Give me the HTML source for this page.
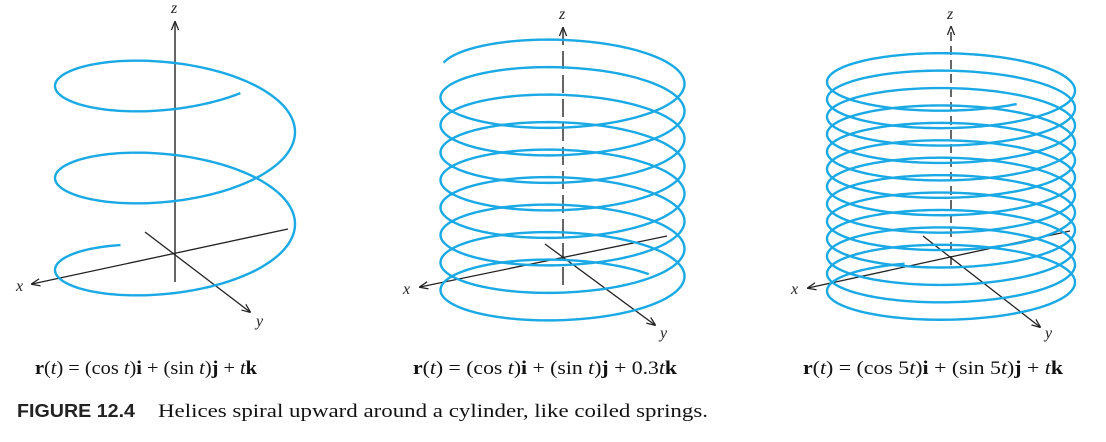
<!DOCTYPE html>
<html><head><meta charset="utf-8"><style>
html,body{margin:0;padding:0;background:#fff}
svg{display:block}
.ax{stroke:#222;stroke-width:1.3;fill:none}
.zax{stroke:#555;stroke-width:1.8;fill:none}
.lbl{font-family:"Liberation Serif",serif;font-style:italic;font-size:16px;fill:#222}
.cap{font-family:"Liberation Serif",serif;font-size:19px;fill:#111}
</style></head><body>
<svg id="fig" width="1106" height="442" viewBox="0 0 1106 442">
<defs>
<marker id="ar" viewBox="0 0 10 10" refX="9" refY="5" markerWidth="9" markerHeight="9" orient="auto-start-reverse" markerUnits="userSpaceOnUse">
<path d="M0,1 L10,5 L0,9" fill="none" stroke="#222" stroke-width="1.4"/></marker>
</defs>
<g id="axes"></g>
<g id="helices"></g>
<g>
<text class="cap" x="35" y="374" textLength="222" lengthAdjust="spacingAndGlyphs"><tspan font-weight="bold">r</tspan>(<tspan font-style="italic">t</tspan>) = (cos <tspan font-style="italic">t</tspan>)<tspan font-weight="bold">i</tspan> + (sin <tspan font-style="italic">t</tspan>)<tspan font-weight="bold">j</tspan> + <tspan font-style="italic">t</tspan><tspan font-weight="bold">k</tspan></text>
<text class="cap" x="413" y="374" textLength="264" lengthAdjust="spacingAndGlyphs"><tspan font-weight="bold">r</tspan>(<tspan font-style="italic">t</tspan>) = (cos <tspan font-style="italic">t</tspan>)<tspan font-weight="bold">i</tspan> + (sin <tspan font-style="italic">t</tspan>)<tspan font-weight="bold">j</tspan> + 0.3<tspan font-style="italic">t</tspan><tspan font-weight="bold">k</tspan></text>
<text class="cap" x="803" y="374" textLength="260" lengthAdjust="spacingAndGlyphs"><tspan font-weight="bold">r</tspan>(<tspan font-style="italic">t</tspan>) = (cos 5<tspan font-style="italic">t</tspan>)<tspan font-weight="bold">i</tspan> + (sin 5<tspan font-style="italic">t</tspan>)<tspan font-weight="bold">j</tspan> + <tspan font-style="italic">t</tspan><tspan font-weight="bold">k</tspan></text>
<text x="17" y="417" textLength="118" lengthAdjust="spacingAndGlyphs" style="font-family:'Liberation Sans',sans-serif;font-weight:bold;font-size:18px;fill:#222">FIGURE 12.4</text>
<text class="cap" x="158" y="417" textLength="550" lengthAdjust="spacingAndGlyphs">Helices spiral upward around a cylinder, like coiled springs.</text>
</g>
</svg>
<script>
// helix parameters (angles in degrees; left extreme of lowest loop at yBase)
const helixNames = ['helix-1','helix-2','helix-3'];
const centersX = [175, 562.5, 951];
const radiiX = [120, 122, 124];
const radiiY = [46, 37, 33];
const baseY = [270, 290, 291];
const pitch = [92, 27.5, 17.42];
const thetaStart = [117, 45, 112];
const thetaEnd = [1023, 3047, 4622];

const NS='http://www.w3.org/2000/svg';
const hg=document.getElementById('helices');
for(let h=0;h<3;h++){
  let d='';
  for(let th=thetaStart[h];th<=thetaEnd[h];th+=2){
    const r=th*Math.PI/180;
    const x=centersX[h]+radiiX[h]*Math.cos(r);
    const y=baseY[h]-pitch[h]*(th-180)/360-radiiY[h]*Math.sin(r);
    d+=(d?'L':'M')+x.toFixed(2)+','+y.toFixed(2);
  }
  const p=document.createElementNS(NS,'path');
  p.setAttribute('d',d);
  p.setAttribute('fill','none');
  p.setAttribute('stroke','#1aa9e4');
  p.setAttribute('stroke-width','2.4');
  
  
  hg.appendChild(p);
}

const ag=document.getElementById('axes');
const axesDef=[
 {cx:175,zb:282,zt:22,zl:[175,13],xf:[288,229],xt:[32,284],xl:[21,291],yf:[145,232],yt:[250,312],yl:[260,326]},
 {cx:563,zb:285,zt:28,zl:[563,19],xf:[667,236],xt:[420,287],xl:[408,294],yf:[545,244],yt:[655,325],yl:[664,338]},
 {cx:951,zb:265,zt:27,zl:[951,19],xf:[1070,231],xt:[808,288],xl:[796,294],yf:[923,236],yt:[1040,327],yl:[1049,338]}
];
axesDef.forEach((a,i)=>{
  const mk=(tag,attrs,name)=>{const e=document.createElementNS(NS,tag);for(const k in attrs)e.setAttribute(k,attrs[k]);
    
    
    ag.appendChild(e);return e;};
  const z=mk('line',{x1:a.cx,y1:a.zb,x2:a.cx,y2:a.zt,class:'zax','marker-end':'url(#ar)'},'z-axis-'+(i+1));
  if(i>0) z.setAttribute('stroke-dasharray', i==2?'9,5':'18,6');
  mk('line',{x1:a.xf[0],y1:a.xf[1],x2:a.xt[0],y2:a.xt[1],class:'ax','marker-end':'url(#ar)'},'x-axis-'+(i+1));
  mk('line',{x1:a.yf[0],y1:a.yf[1],x2:a.yt[0],y2:a.yt[1],class:'ax','marker-end':'url(#ar)'},'y-axis-'+(i+1));
  const t1=mk('text',{x:a.zl[0]-4,y:a.zl[1],class:'lbl'},'z-axis-label-'+(i+1));t1.textContent='z';
  const t2=mk('text',{x:a.xl[0]-5,y:a.xl[1],class:'lbl'},'x-axis-label-'+(i+1));t2.textContent='x';
  const t3=mk('text',{x:a.yl[0]-4,y:a.yl[1],class:'lbl'},'y-axis-label-'+(i+1));t3.textContent='y';
});
</script>
</body></html>
